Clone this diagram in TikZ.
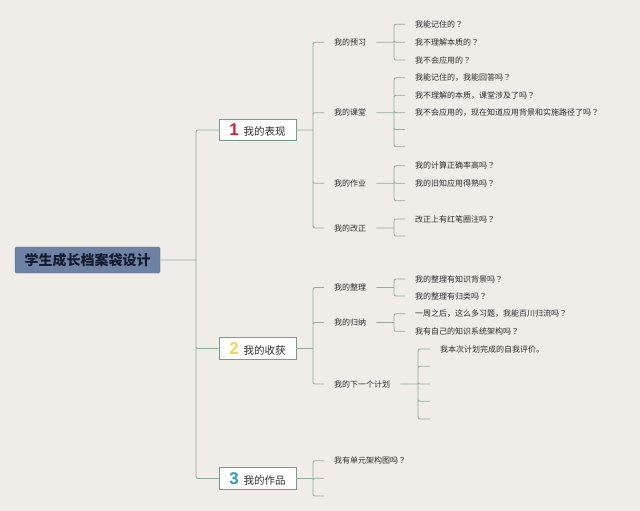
\documentclass[tikz,border=0pt]{standalone}
\usepackage{fontspec}
\setmainfont{Noto Sans CJK SC}
\newfontfamily\numfont{Liberation Sans}
\newfontfamily\markfont{Noto Sans CJK TC}
\definecolor{paper}{HTML}{F0ECE7}
\definecolor{linegreen}{HTML}{8DB09B}
\definecolor{boxgreen}{HTML}{6FA088}
\definecolor{rootblue}{HTML}{6E82A6}
\definecolor{rootink}{HTML}{141C2C}
\definecolor{textgrey}{HTML}{2E2E2E}
\definecolor{numred}{HTML}{D8222C}
\definecolor{numyellow}{HTML}{F2D64B}
\definecolor{numblue}{HTML}{2C9AD6}
\newcommand\bignum[2]{{\numfont\fontsize{17}{17}\selectfont\bfseries\color{#1}#2}\hspace{5pt}}
\newcommand\qm{{\markfont ？}}

\begin{document}
\begin{tikzpicture}[x=1pt,y=-1pt,
  line/.style={draw=linegreen,line width=0.8pt,rounded corners=2pt},
  root node/.style={draw=rootblue!85!black,fill=rootblue,rounded corners=1.5pt,minimum width=145pt,
    minimum height=26pt,font=\fontsize{14}{16}\selectfont\bfseries,text=rootink},
  branch node/.style={draw=boxgreen,fill=white,line width=0.8pt,minimum width=77pt,
    minimum height=21.5pt,inner xsep=0pt,font=\fontsize{10.5}{12}\selectfont,text=textgrey},
  sub node/.style={anchor=west,inner xsep=10pt,inner ysep=1pt,font=\fontsize{8}{10}\selectfont,text=textgrey},
  leaf node/.style={sub node}]

  \fill[paper] (0,0) rectangle (640,511);
  \useasboundingbox (0,0) rectangle (640,511);

  \node[root node] (root) at (87.5,260) {学生成长档案袋设计};

  \node[branch node] (biaoxian) at (257.5,130) {\bignum{numred}{1}我的表现};
  \node[branch node] (shouhuo) at (257.5,348.5) {\bignum{numyellow}{2}我的收获};
  \node[branch node] (zuopin) at (257.5,478.5) {\bignum{numblue}{3}我的作品};

  \node[sub node] (yuxi) at (324,42.3) {我的预习};
  \node[sub node] (ketang) at (324,112.7) {我的课堂};
  \node[sub node] (zuoye) at (324,183.3) {我的作业};
  \node[sub node] (gaizheng) at (324,228) {我的改正};
  \node[sub node] (zhengli) at (324,287.5) {我的整理};
  \node[sub node] (guina) at (324,322.5) {我的归纳};
  \node[sub node] (jihua) at (324,384) {我的下一个计划};
  \node[sub node] (jiagou) at (324,460.7) {我有单元架构图吗\qm};
  \coordinate (zp2) at (324,478.3);
  \coordinate (zp3) at (324,496);

  \node[leaf node] (yx1) at (405,24.3) {我能记住的\qm};
  \node[leaf node] (yx2) at (405,42.3) {我不理解本质的\qm};
  \node[leaf node] (yx3) at (405,60) {我不会应用的\qm};
  \node[leaf node] (kt1) at (405,77.7) {我能记住的，我能回答吗\qm};
  \node[leaf node] (kt2) at (405,95.3) {我不理解的本质，课堂涉及了吗\qm};
  \node[leaf node] (kt3) at (405,112.7) {我不会应用的，现在知道应用背景和实施路径了吗\qm};
  \coordinate (kt4) at (405,129.5);
  \coordinate (kt5) at (405,146.7);
  \node[leaf node] (zy1) at (405,165.7) {我的计算正确率高吗\qm};
  \node[leaf node] (zy2) at (405,183.3) {我的旧知应用得熟吗\qm};
  \coordinate (zy3) at (405,200.7);
  \node[leaf node] (gz1) at (405,219) {改正上有红笔圈注吗\qm};
  \coordinate (gz2) at (405,236);
  \node[leaf node] (zl1) at (405,279) {我的整理有知识背景吗\qm};
  \node[leaf node] (zl2) at (405,296) {我的整理有归类吗\qm};
  \node[leaf node] (gn1) at (405,313.7) {一周之后，这么多习题，我能百川归流吗\qm};
  \node[leaf node] (gn2) at (405,331.3) {我有自己的知识系统架构吗\qm};
  \node[leaf node] (jh1) at (430,349) {我本次计划完成的自我评价。};
  \coordinate (jh2) at (430,366.3);
  \coordinate (jh3) at (430,384);
  \coordinate (jh4) at (430,401.3);
  \coordinate (jh5) at (430,419);

  \coordinate (t) at (196,260);
  \coordinate (j1) at (313,130);
  \coordinate (j2) at (313,348.5);
  \coordinate (j3) at (313,478.5);
  \coordinate (kyx) at (394,42.3);
  \coordinate (kkt) at (394,112.7);
  \coordinate (kzy) at (394,183.3);
  \coordinate (kgz) at (394,228);
  \coordinate (kzl) at (394,287.5);
  \coordinate (kgn) at (394,322.5);
  \coordinate (kjh) at (418,384);

  \draw[line] (root) -- (t) (t) |- (biaoxian) (t) |- (shouhuo) (t) |- (zuopin);
  \draw[line] (biaoxian) -- (j1) (j1) |- (yuxi.west) (j1) |- (ketang.west)
    (j1) |- (zuoye.west) (j1) |- (gaizheng.west);
  \draw[line] (shouhuo) -- (j2) (j2) |- (zhengli.west) (j2) |- (guina.west) (j2) |- (jihua.west);
  \draw[line] (zuopin) -- (j3) (j3) |- (jiagou.west) (j3) |- (zp2) (j3) |- (zp3);
  \draw[line] (yuxi) -- (kyx) (kyx) |- (yx1.west) (kyx) |- (yx2.west) (kyx) |- (yx3.west);
  \draw[line] (ketang) -- (kkt) (kkt) |- (kt1.west) (kkt) |- (kt2.west) (kkt) |- (kt3.west)
    (kkt) |- (kt4) (kkt) |- (kt5);
  \draw[line] (zuoye) -- (kzy) (kzy) |- (zy1.west) (kzy) |- (zy2.west) (kzy) |- (zy3);
  \draw[line] (gaizheng) -- (kgz) (kgz) |- (gz1.west) (kgz) |- (gz2);
  \draw[line] (zhengli) -- (kzl) (kzl) |- (zl1.west) (kzl) |- (zl2.west);
  \draw[line] (guina) -- (kgn) (kgn) |- (gn1.west) (kgn) |- (gn2.west);
  \draw[line] (jihua) -- (kjh) (kjh) |- (jh1.west) (kjh) |- (jh2) (kjh) |- (jh3)
    (kjh) |- (jh4) (kjh) |- (jh5);
\end{tikzpicture}
\end{document}
